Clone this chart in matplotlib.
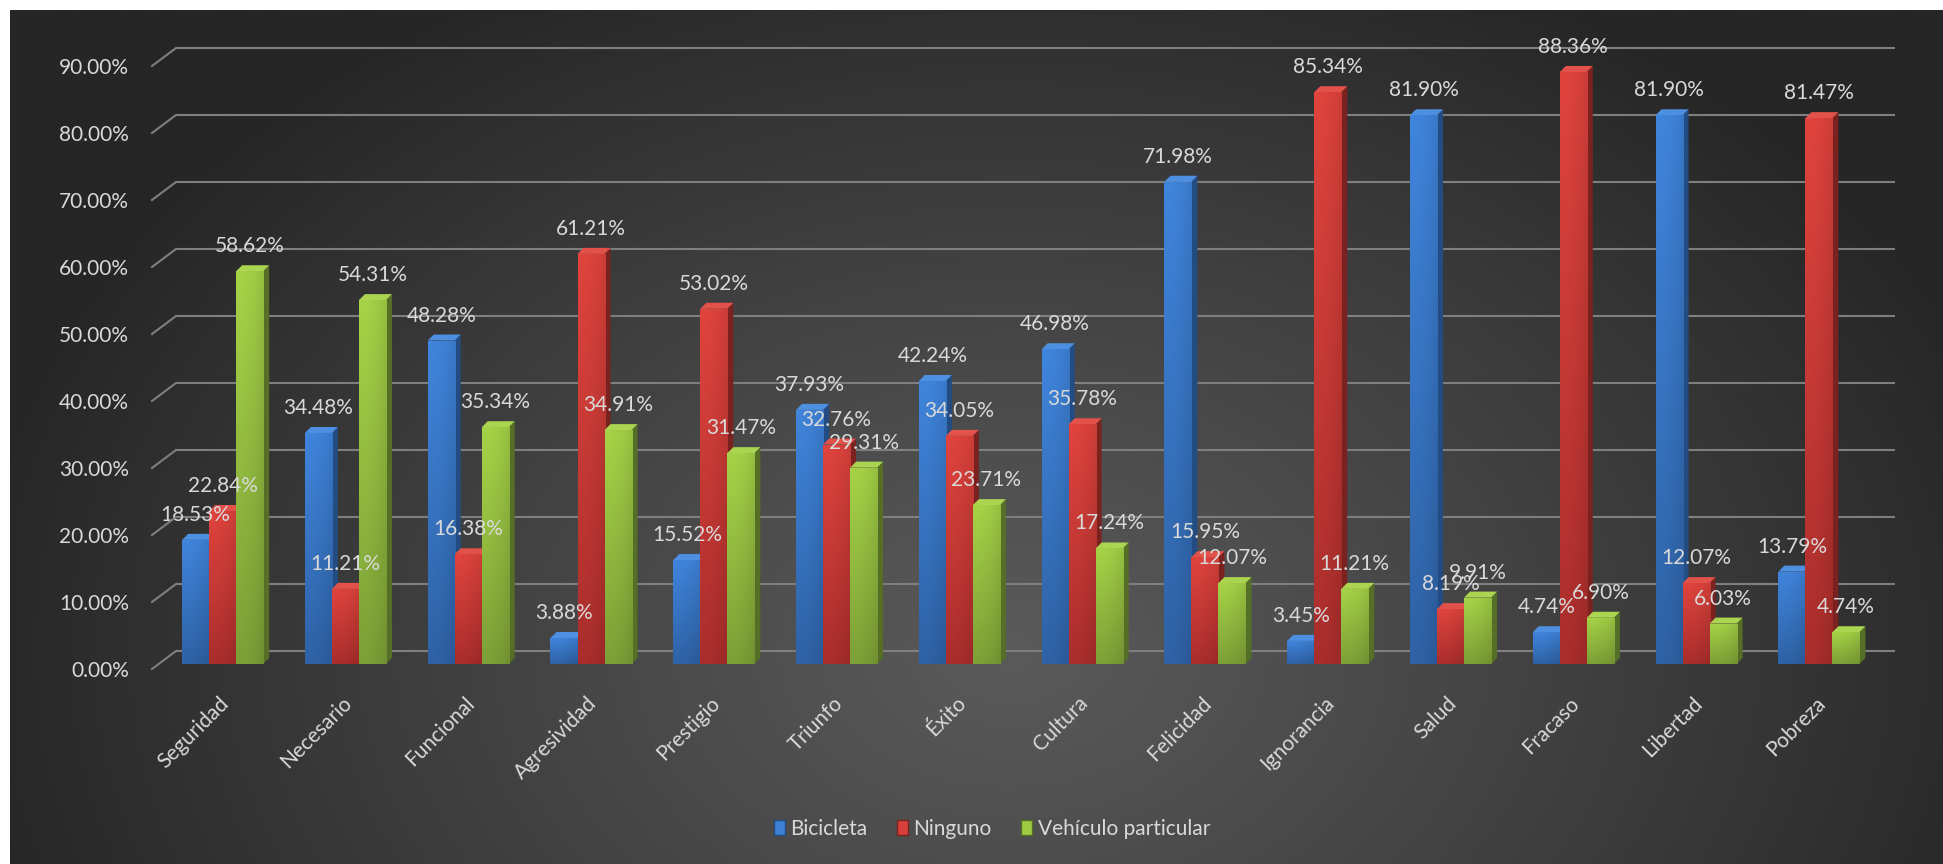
import numpy as np
import matplotlib.pyplot as plt
import matplotlib.transforms as mtransforms
from matplotlib.colors import to_rgb
from matplotlib.patches import Polygon, Patch
from matplotlib.lines import Line2D

categorias = ['Seguridad', 'Necesario', 'Funcional', 'Agresividad', 'Prestigio', 'Triunfo', 'Éxito',
              'Cultura', 'Felicidad', 'Ignorancia', 'Salud', 'Fracaso', 'Libertad', 'Pobreza']
bicicleta = [18.53, 34.48, 48.28, 3.88, 15.52, 37.93, 42.24, 46.98, 71.98, 3.45, 81.90, 4.74, 81.90, 13.79]
ninguno = [22.84, 11.21, 16.38, 61.21, 53.02, 32.76, 34.05, 35.78, 15.95, 85.34, 8.19, 88.36, 12.07, 81.47]
vehiculo = [58.62, 54.31, 35.34, 34.91, 31.47, 29.31, 23.71, 17.24, 12.07, 11.21, 9.91, 6.90, 6.03, 4.74]
series = ['Bicicleta', 'Ninguno', 'Vehículo particular']
yticks = list(range(0, 100, 10))

# colores: arriba, abajo, lateral, tapa
paleta = [('#3d80d4', '#2d5e9f', '#234c82', '#4d8fe0'),
          ('#d8413b', '#a32c2a', '#7a2220', '#e2514a'),
          ('#9fcb44', '#789a35', '#566f27', '#abd551')]

W, H = 1943, 864
plt.rcParams['font.family'] = ['Lato', 'DejaVu Sans']
texto = '#d9d9d9'
rejilla = '#7f7f7f'

fig = plt.figure(figsize=(W / 100, H / 100), dpi=100, facecolor='white')

# fondo con degradado radial
bg = fig.add_axes([10 / W, 0, (W - 10) / W, (H - 10) / H])
yy, xx = np.mgrid[0:H - 10:2, 0:W - 10:2]
t = np.sqrt(((xx - 1000) / 1050) ** 2 + ((yy - 640) / 760) ** 2)
t = np.clip(t, 0, 1) ** 1.1
claro, oscuro = np.array(to_rgb('#5a5a5a')), np.array(to_rgb('#262626'))
bg.imshow(claro + (oscuro - claro) * t[..., None], aspect='auto', interpolation='bilinear')
bg.axis('off')

ax = fig.add_axes([176 / W, (H - 664) / H, 1719 / W, 603 / H])
ax.patch.set_visible(False)
for s in ax.spines.values():
    s.set_visible(False)
ax.set_xlim(-0.5, 13.5)
ax.set_ylim(0, 90)

px_x = 1719 / 14
px_y = 603 / 90
dxd, dyd = 6 / px_x, 6 / px_y

x = np.arange(len(categorias))
ancho = 0.22
desplaz = -0.12

# lineas de la pared del fondo
fondo = mtransforms.offset_copy(ax.transData, fig=fig, y=13, units='dots')
for v in yticks:
    ax.plot([-0.5, 13.5], [v, v], transform=fondo, color=rejilla, lw=1.5, zorder=1,
            clip_on=False, solid_capstyle='butt')
    x0, y0 = ax.transData.transform((-0.5, v))
    fig.add_artist(Line2D([x0 - 24, x0], [y0 - 5, y0 + 13], transform=mtransforms.IdentityTransform(),
                          color=rejilla, lw=1.5))

etiq = mtransforms.offset_copy(mtransforms.blended_transform_factory(fig.transFigure, ax.transData),
                               fig=fig, y=-7, units='dots')
for v in yticks:
    ax.text(129 / W, v, f'{v:.2f}%', transform=etiq, ha='right', va='center', color=texto, fontsize=15)

ny, nx = 128, 16
gy = np.linspace(0, 1, ny)[:, None, None]
gx = np.linspace(0, 1, nx)[None, :, None]
for k, vals in enumerate([bicicleta, ninguno, vehiculo]):
    c_top, c_bot, c_side, c_cap = paleta[k]
    pos = x + desplaz + (k - 1) * ancho
    z = 3 + k
    barras = ax.bar(pos, vals, width=ancho, color=c_bot, linewidth=0, zorder=z + 0.2)
    arriba, abajo = np.array(to_rgb(c_top)), np.array(to_rgb(c_bot))
    grad = abajo + (arriba - abajo) * gy
    grad = np.clip(grad * (1.04 - 0.1 * gx ** 2), 0, 1)
    for b, p, v in zip(barras, pos, vals):
        xa, xb = p - ancho / 2, p + ancho / 2
        im = ax.imshow(grad, extent=[xa, xb, 0, v], origin='lower', aspect='auto',
                       interpolation='bilinear', zorder=z + 0.3)
        im.set_clip_path(b)
        ax.add_patch(Polygon([(xb, 0), (xb, v), (xb + dxd, v + dyd), (xb + dxd, dyd)],
                             closed=True, facecolor=c_side, linewidth=0, zorder=z))
        ax.add_patch(Polygon([(xa, v), (xb, v), (xb + dxd, v + dyd), (xa + dxd, v + dyd)],
                             closed=True, facecolor=c_cap, linewidth=0, zorder=z + 0.1, clip_on=False))
    for p, v in zip(pos, vals):
        ax.annotate(f'{v:.2f}%', (p, v), xytext=(0, 18), textcoords='offset points',
                    ha='center', va='center', color=texto, fontsize=15, zorder=10)

ax.set_xlim(-0.5, 13.5)
ax.set_ylim(0, 90)
ax.set_yticks([])
ax.set_xticks(x + desplaz + 0.025)
ax.set_xticklabels(categorias, rotation=45, ha='right', va='center', rotation_mode='anchor',
                   color=texto, fontsize=15)
ax.tick_params(axis='x', length=0, pad=26)

handles = [Patch(facecolor=c[0], edgecolor=c[2], linewidth=1) for c in paleta]
fig.legend(handles, series, loc='center', bbox_to_anchor=(992 / W, (H - 829) / H), ncol=3,
           frameon=False, fontsize=15, handlelength=0.55, handleheight=0.75, handletextpad=0.25,
           columnspacing=1.4, labelcolor=texto)

fig.savefig('out.png', dpi=100, facecolor='white')
